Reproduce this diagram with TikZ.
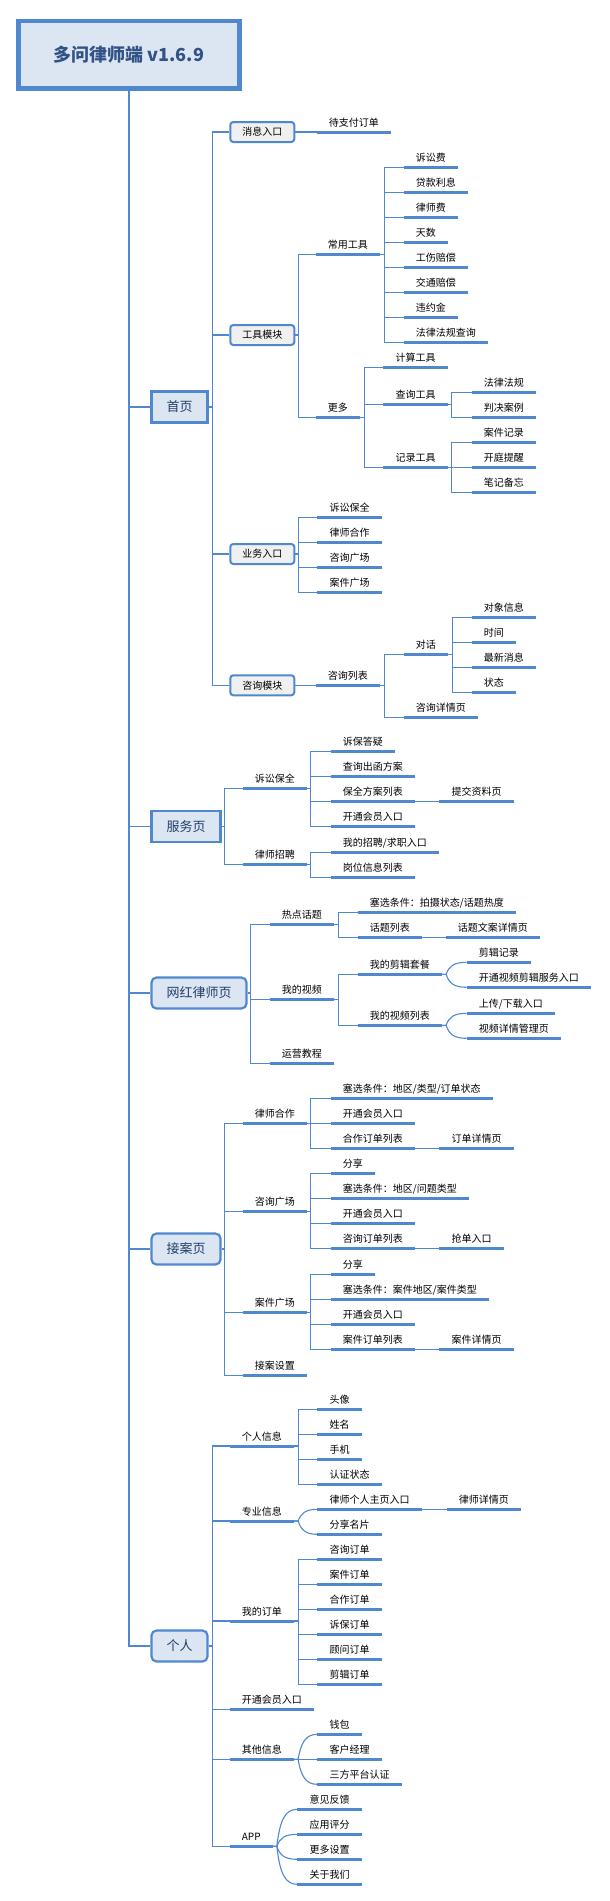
\documentclass[tikz,border=0pt]{standalone}
\usepackage{fontspec}
\setmainfont{Noto Sans CJK SC}
\usetikzlibrary{calc}
\definecolor{lc}{RGB}{79,136,207}
\definecolor{lb}{RGB}{220,230,242}
\definecolor{dk}{RGB}{35,60,105}
\definecolor{tc}{RGB}{50,82,135}
\definecolor{gb}{RGB}{240,240,240}
\tikzset{
 conn/.style={draw=lc, line width=1.1pt},
 uline/.style={draw=lc, line width=3pt},
 leaf/.style={anchor=south west, inner xsep=12pt, inner ysep=4.2pt, text height=8.5pt, text depth=1.5pt,
   font=\fontsize{10}{12}\selectfont,
   append after command={\pgfextra{\let\lastleaf\tikzlastnode}(\lastleaf.south west) edge[uline] (\lastleaf.south east)}},
 boxtwo/.style={anchor=west, draw=lc, line width=2pt, fill=gb, rounded corners=3pt, minimum height=20pt,
   inner xsep=12pt, inner ysep=0pt, font=\fontsize{10}{12}\selectfont},
 boxone/.style={anchor=west, draw=lc, line width=2.2pt, fill=lb, minimum height=31pt, inner xsep=15pt,
   inner ysep=0pt, text=dk, font=\fontsize{13}{15}\selectfont},
 titlebox/.style={draw=lc, line width=4.5pt, fill=lb, minimum width=221pt, minimum height=67.5pt,
   text=tc, font=\fontsize{18}{20}\selectfont\bfseries},
}
\newcommand\elb[3]{\draw[conn] (#1) -- ++(#2,0) |- (#3.south west);}
\newcommand\curvy[2]{\draw[conn] let \p1=(#1.south east), \p2=(#2.south west) in
  (\p1) -- ({\x1+4pt},\y1) .. controls ({\x1+7pt},{\y1+0.7*(\y2-\y1)}) and ({\x1+12pt},\y2) .. (\p2);}
\begin{document}
\begin{tikzpicture}[x=1pt,y=-1pt]
\useasboundingbox (0,0) rectangle (610,1901);
\node[titlebox] (T) at (128.8,54.7) {多问律师端 v1.6.9};
% level 1
\node[boxone] (P1) at (150.4,407) {首页};
\node[boxone] (P2) at (150.4,826.5) {服务页};
\node[boxone,rounded corners=5pt] (P3) at (150.4,993) {网红律师页};
\node[boxone,rounded corners=5pt] (P4) at (150.4,1249) {接案页};
\node[boxone,rounded corners=5pt] (P5) at (150.4,1646) {个人};
\foreach \p in {P1,P2,P3,P4,P5} {\draw[conn,line width=1.5pt] (T.south) |- (\p.west);}
% 首页
\node[boxtwo] (A1) at (229.3,132) {消息入口};
\node[boxtwo] (A2) at (229.3,335) {工具模块};
\node[boxtwo] (A3) at (229.3,554) {业务入口};
\node[boxtwo] (A4) at (229.3,685.3) {咨询模块};
\foreach \c in {A1,A2,A3,A4} {\draw[conn] (P1.east) -- ++(3.6,0) |- (\c.west);}
\node[leaf] (A1a) at (316.7,132) {待支付订单};
\draw[conn] (A1.east) -- (A1a.south west);
\node[leaf] (B1) at (315.7,254.3) {常用工具};
\node[leaf] (B2) at (315.7,417.3) {更多};
\foreach \c in {B1,B2} {\draw[conn] (A2.east) -- ++(3.6,0) |- (\c.south west);}
\foreach \t [count=\i] in {诉讼费,贷款利息,律师费,天数,工伤赔偿,交通赔偿,违约金,法律法规查询} {
  \node[leaf] (C\i) at (403.7,{142.3+25*\i}) {\t};
  \elb{B1.south east}{4}{C\i}
}
\node[leaf] (D1) at (383.3,367.3) {计算工具};
\node[leaf] (D2) at (383.3,404.3) {查询工具};
\node[leaf] (D3) at (383.3,467.3) {记录工具};
\foreach \c in {D1,D2,D3} {\elb{B2.south east}{4}{\c}}
\node[leaf] (E1) at (471.7,392.3) {法律法规};
\node[leaf] (E2) at (471.7,417.3) {判决案例};
\foreach \c in {E1,E2} {\elb{D2.south east}{4}{\c}}
\node[leaf] (E3) at (471.7,442.3) {案件记录};
\node[leaf] (E4) at (471.7,467.3) {开庭提醒};
\node[leaf] (E5) at (471.7,492.3) {笔记备忘};
\foreach \c in {E3,E4,E5} {\elb{D3.south east}{4}{\c}}
\foreach \t [count=\i] in {诉讼保全,律师合作,咨询广场,案件广场} {
  \node[leaf] (F\i) at (317.3,{492.3+25*\i}) {\t};
  \draw[conn] (A3.east) -- ++(3,0) |- (F\i.south west);
}
\node[leaf] (G1) at (315.7,685.3) {咨询列表};
\draw[conn] (A4.east) -- (G1.south west);
\node[leaf] (H1) at (403.7,654.3) {对话};
\node[leaf] (H2) at (403.7,717.3) {咨询详情页};
\foreach \c in {H1,H2} {\elb{G1.south east}{4}{\c}}
\foreach \t [count=\i] in {对象信息,时间,最新消息,状态} {
  \node[leaf] (I\i) at (471.7,{592.3+25*\i}) {\t};
  \elb{H1.south east}{4}{I\i}
}
% 服务页
\node[leaf] (J1) at (242.7,788.3) {诉讼保全};
\node[leaf] (J2) at (242.7,864.3) {律师招聘};
\foreach \c in {J1,J2} {\draw[conn] (P2.east) -- ++(3,0) |- (\c.south west);}
\foreach \t [count=\i] in {诉保答疑,查询出函方案,保全方案列表,开通会员入口} {
  \node[leaf] (K\i) at (330.7,{726.3+25*\i}) {\t};
  \elb{J1.south east}{3.6}{K\i}
}
\node[leaf] (K5) at (439.3,801.3) {提交资料页};
\draw[conn] (K3.south east) -- (K5.south west);
\node[leaf] (K6) at (330.7,852.3) {我的招聘/求职入口};
\node[leaf] (K7) at (330.7,877.3) {岗位信息列表};
\foreach \c in {K6,K7} {\elb{J2.south east}{3.6}{\c}}
% 网红律师页
\node[leaf] (M1) at (269.7,924.3) {热点话题};
\node[leaf] (M2) at (269.7,999.3) {我的视频};
\node[leaf] (M3) at (269.7,1063.3) {运营教程};
\foreach \c in {M1,M2,M3} {\draw[conn] (P3.east) -- ++(3,0) |- (\c.south west);}
\node[leaf] (N1) at (357.7,912.3) {塞选条件：拍摄状态/话题热度};
\node[leaf] (N2) at (357.7,937.3) {话题列表};
\foreach \c in {N1,N2} {\elb{M1.south east}{4}{\c}}
\node[leaf] (N3) at (445.7,937.3) {话题文案详情页};
\draw[conn] (N2.south east) -- (N3.south west);
\node[leaf] (N4) at (357.7,974.3) {我的剪辑套餐};
\node[leaf] (N5) at (357.7,1025.3) {我的视频列表};
\foreach \c in {N4,N5} {\elb{M2.south east}{4}{\c}}
\node[leaf] (O1) at (466.7,962.3) {剪辑记录};
\node[leaf] (O2) at (466.7,987.3) {开通视频剪辑服务入口};
\curvy{N4}{O1}\curvy{N4}{O2}
\node[leaf] (O3) at (466.7,1013.3) {上传/下载入口};
\node[leaf] (O4) at (466.7,1038.3) {视频详情管理页};
\curvy{N5}{O3}\curvy{N5}{O4}
% 接案页
\node[leaf] (Q1) at (242.7,1123.3) {律师合作};
\node[leaf] (Q2) at (242.7,1211.3) {咨询广场};
\node[leaf] (Q3) at (242.7,1312.3) {案件广场};
\node[leaf] (Q4) at (242.7,1375.3) {接案设置};
\foreach \c in {Q1,Q2,Q3,Q4} {\draw[conn] (P4.east) -- ++(3,0) |- (\c.south west);}
\node[leaf] (R1) at (330.7,1098.3) {塞选条件：地区/类型/订单状态};
\node[leaf] (R2) at (330.7,1123.3) {开通会员入口};
\node[leaf] (R3) at (330.7,1148.3) {合作订单列表};
\foreach \c in {R1,R2,R3} {\elb{Q1.south east}{3.6}{\c}}
\node[leaf] (R4) at (439.3,1148.3) {订单详情页};
\draw[conn] (R3.south east) -- (R4.south west);
\node[leaf] (R5) at (330.7,1173.3) {分享};
\node[leaf] (R6) at (330.7,1198.3) {塞选条件：地区/问题类型};
\node[leaf] (R7) at (330.7,1223.3) {开通会员入口};
\node[leaf] (R8) at (330.7,1248.3) {咨询订单列表};
\foreach \c in {R5,R6,R7,R8} {\elb{Q2.south east}{3.6}{\c}}
\node[leaf] (R9) at (439.3,1248.3) {抢单入口};
\draw[conn] (R8.south east) -- (R9.south west);
\node[leaf] (R10) at (330.7,1274.3) {分享};
\node[leaf] (R11) at (330.7,1299.3) {塞选条件：案件地区/案件类型};
\node[leaf] (R12) at (330.7,1324.3) {开通会员入口};
\node[leaf] (R13) at (330.7,1349.3) {案件订单列表};
\foreach \c in {R10,R11,R12,R13} {\elb{Q3.south east}{3.6}{\c}}
\node[leaf] (R14) at (439.3,1349.3) {案件详情页};
\draw[conn] (R13.south east) -- (R14.south west);
% 个人
\node[leaf] (S1) at (229.7,1446) {个人信息};
\node[leaf] (S2) at (229.7,1521) {专业信息};
\node[leaf] (S3) at (229.7,1621) {我的订单};
\node[leaf] (S4) at (229.7,1709.3) {开通会员入口};
\node[leaf] (S5) at (229.7,1759.3) {其他信息};
\node[leaf] (S6) at (229.7,1846.3) {APP};
\foreach \c in {S1,S2,S3,S4,S5,S6} {\draw[conn] (P5.east) -- ++(3.6,0) |- (\c.south west);}
\foreach \t [count=\i] in {头像,姓名,手机,认证状态} {
  \node[leaf] (U\i) at (317.3,{1384.3+25*\i}) {\t};
  \elb{S1.south east}{4}{U\i}
}
\node[leaf] (U5) at (317.3,1509.3) {律师个人主页入口};
\node[leaf] (U6) at (446.7,1509.3) {律师详情页};
\draw[conn] (U5.south east) -- (U6.south west);
\node[leaf] (U7) at (317.3,1534.3) {分享名片};
\curvy{S2}{U5}\curvy{S2}{U7}
\foreach \t [count=\i] in {咨询订单,案件订单,合作订单,诉保订单,顾问订单,剪辑订单} {
  \node[leaf] (V\i) at (317.3,{1534.3+25*\i}) {\t};
  \elb{S3.south east}{4}{V\i}
}
\node[leaf] (W1) at (317.3,1734.3) {钱包};
\node[leaf] (W2) at (317.3,1759.3) {客户经理};
\node[leaf] (W3) at (317.3,1784.3) {三方平台认证};
\curvy{S5}{W1}\curvy{S5}{W2}\curvy{S5}{W3}
\foreach \t [count=\i] in {意见反馈,应用评分,更多设置,关于我们} {
  \node[leaf] (X\i) at (297.3,{1784.3+25*\i}) {\t};
  \curvy{S6}{X\i}
}
\end{tikzpicture}
\end{document}
